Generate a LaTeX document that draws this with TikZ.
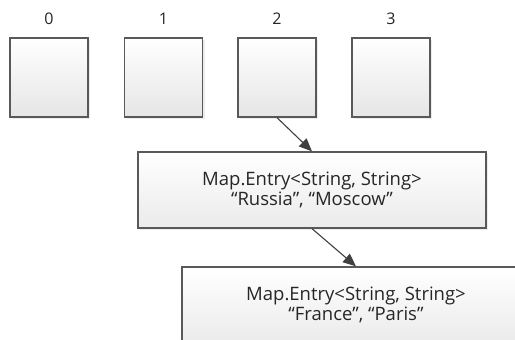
\documentclass[tikz,border=0pt]{standalone}
\usepackage{fontspec}
\setmainfont{Open Sans}
\usetikzlibrary{arrows.meta,shadows}

\tikzset{
  cell/.style={draw=black!65, line width=1.3pt, top color=white, bottom color=black!10,
    minimum width=78pt, minimum height=79pt, inner sep=0pt,
    drop shadow={opacity=0.15, shadow xshift=2pt, shadow yshift=-2pt}},
  entry/.style={draw=black!65, line width=1.3pt, top color=white, bottom color=black!8,
    minimum width=348pt, minimum height=76pt, align=center, text=black!85,
    font=\fontsize{18.5}{20}\selectfont,
    drop shadow={opacity=0.15, shadow xshift=2pt, shadow yshift=-2pt}},
  idx/.style={text=black!85, font=\fontsize{16}{18}\selectfont},
  ptr/.style={draw=black!75, line width=1.1pt, -{Triangle[length=13pt,width=11pt]}}
}

\begin{document}
\begin{tikzpicture}[x=1pt,y=-1pt]
\clip (0,0) rectangle (515,340);
\useasboundingbox (0,0) rectangle (515,340);
\path (49,77.5) node[cell] (c0) {}
		(163.5,77.5) node[cell] (c1) {}
		(277,77.5) node[cell] (c2) {}
		(391,77.5) node[cell] (c3) {}
		(49,19) node[idx] (l0) {0}
		(163.5,19) node[idx] (l1) {1}
		(277,19) node[idx] (l2) {2}
		(391,19) node[idx] (l3) {3}
		(312,190) node[entry] (russia) {Map.Entry<String, String>\\``Russia'', ``Moscow''}
		(356,305) node[entry] (france) {Map.Entry<String, String>\\``France'', ``Paris''}
		;
\draw[ptr] (c2.south) -- (russia.north);
\draw[ptr] (russia.south) -- (france.north);
\end{tikzpicture}
\end{document}
